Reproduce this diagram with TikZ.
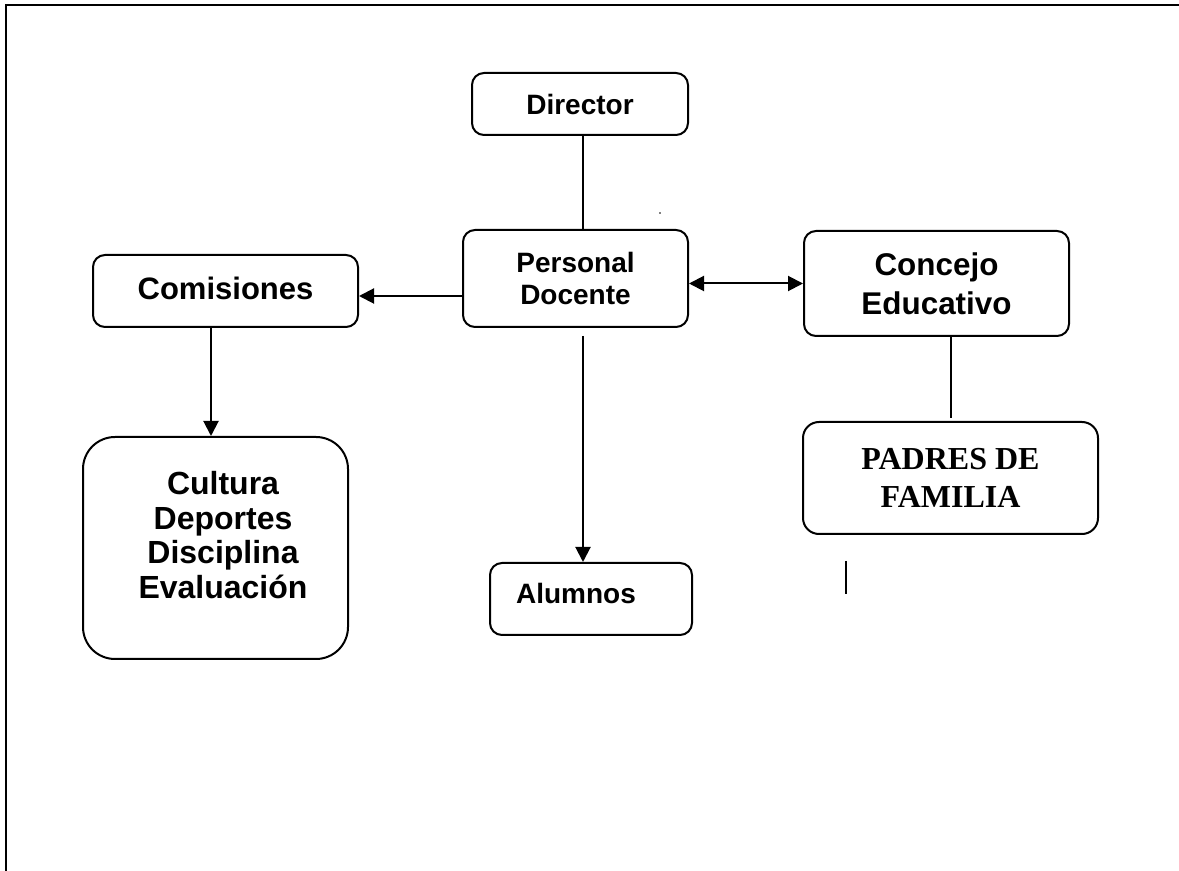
\documentclass[tikz,border=0pt]{standalone}
\usepackage{fontspec}
\setmainfont{Liberation Sans}
\newfontfamily\serifbold{Liberation Serif}
\usetikzlibrary{positioning, arrows.meta}
\tikzset{>={Triangle[length=7.5pt,width=7.5pt]},
box/.style={draw, line width=1pt, rounded corners=6pt, align=center, inner sep=0pt},
}
\newcommand{\fs}[2]{\fontsize{#1}{#2}\selectfont}

\begin{document}
\begin{tikzpicture}[x=0.5pt, y=-0.5pt, line width=0.8pt]
\useasboundingbox (0,0) rectangle (1179,871);
\draw[line width=1pt] (6,871) -- (6,5.5) -- (1179,5.5);
    \node[box, minimum width=108pt, minimum height=31pt, font=\bfseries\fs{14}{16}] (director) at (580,104) {Director};
    \node[box, minimum width=112.5pt, minimum height=48.5pt, font=\bfseries\fs{14}{16}] (personal) at (575.5,278.5) {Personal\\Docente};
    \node[box, minimum width=132.5pt, minimum height=36pt, font=\bfseries\fs{15.5}{17}] (comisiones) at (225.5,291) {};
    \node[font=\bfseries\fs{15.5}{17}] (comisiones-txt) at (225.5,288) {Comisiones};
    \node[box, rounded corners=16pt, minimum width=132.5pt, minimum height=111pt] (cultura) at (215.5,548) {};
    \node[align=center, font=\bfseries\fs{16}{17.25}] (cultura-txt) at (223,535) {Cultura\\Deportes\\Disciplina\\Evaluación};
    \node[box, minimum width=101pt, minimum height=36pt] (alumnos) at (591,599) {};
    \node[font=\bfseries\fs{14}{16}] (alumnos-txt) at (576,593) {Alumnos};
    \node[box, minimum width=132.5pt, minimum height=52.5pt, font=\bfseries\fs{15.7}{19.5}] (concejo) at (936.5,283.5) {Concejo\\Educativo};
    \node[box, rounded corners=8pt, minimum width=147.5pt, minimum height=56pt, font=\serifbold\bfseries\fs{16}{19}] (padres) at (950.5,478) {PADRES DE\\FAMILIA};
    \draw ([xshift=1.5pt]director.south) -- ([xshift=1.5pt]director.south |- personal.north);
    \draw[->, line width=1pt] ([yshift=-8.75pt]personal.west) -- ([yshift=-8.75pt]personal.west -| comisiones.east);
    \draw[<->, line width=1pt] (personal.east |- concejo.west) -- (concejo.west);
    \draw[->, line width=1pt] ([xshift=3.75pt,yshift=-4pt]personal.south) -- ([xshift=3.75pt]personal.south |- alumnos.north);
    \draw[->, line width=1pt] ([xshift=-7.25pt]comisiones.south) -- ([xshift=-7.25pt]comisiones.south |- cultura.north);
    \draw ([xshift=7.25pt]concejo.south) -- ([xshift=7.25pt,yshift=1.5pt]concejo.south |- padres.north);
    \coordinate (mark-top) at (846,561);
    \coordinate (mark-bot) at (846,594);
    \draw (mark-top) -- (mark-bot);
    \fill (660,213) circle (0.4pt);
\end{tikzpicture}
\end{document}
